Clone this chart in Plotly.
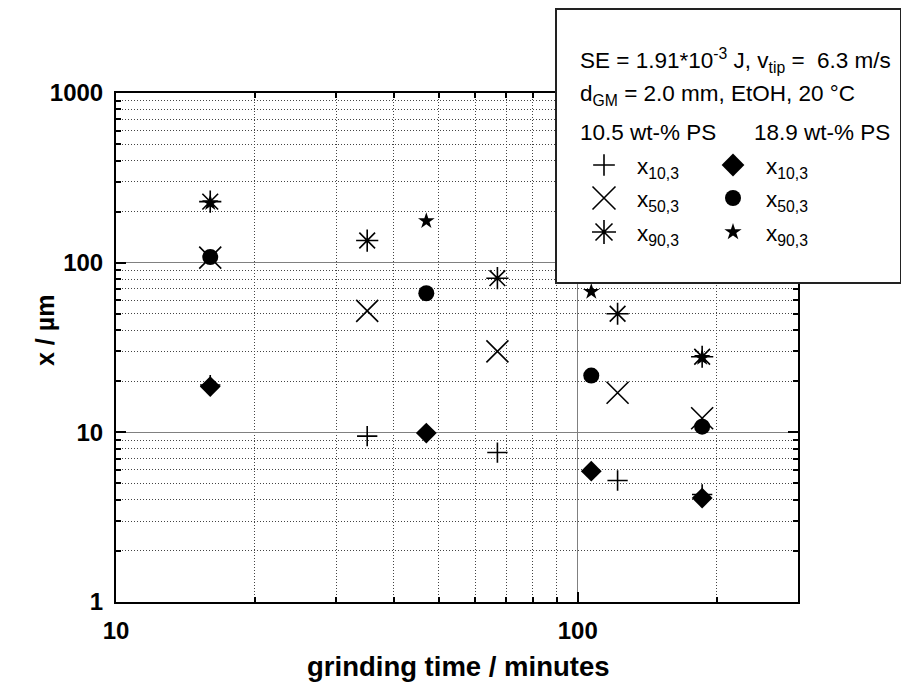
import plotly.graph_objects as go
import math

# ---- data ----
t_105 = [16, 35, 67, 122, 186]
x10_105 = [19.0, 9.5, 7.6, 5.2, 4.3]
x50_105 = [107, 52, 30, 17.1, 12.1]
x90_105 = [229, 135, 81, 50, 27.9]

t_189 = [16, 47, 107, 186]
x10_189 = [18.6, 9.9, 5.9, 4.1]
x50_189 = [108, 66, 21.6, 10.8]
x90_189 = [225, 176, 67.5, 27.5]

y_ticks = [1, 10, 100, 1000]
x_ticks = [10, 100]

W, H = 901, 684
FONT = "Liberation Sans"

# plot area in pixels
PL, PR, PT, PB = 116, 798, 93, 602
# legend box in pixels
BL, BR, BT, BB = 557, 900, 10, 282

fig = go.Figure()

line_black = dict(color="black", width=1.6)
series = [
    (t_105, x10_105, "cross-thin-open", 14.5, True),
    (t_105, x50_105, "x-thin-open", 22, True),
    (t_105, x90_105, "asterisk-open", 18.5, True),
    (t_189, x10_189, "diamond", 16, False),
    (t_189, x50_189, "circle", 16, False),
    (t_189, x90_189, "star", 12.5, False),
]
for tx, vy, sym, sz, is_open in series:
    fig.add_trace(go.Scatter(
        x=tx, y=vy, mode="markers", xaxis="x", yaxis="y",
        marker=dict(symbol=sym, size=sz, color="black",
                    line=line_black if is_open else dict(width=0)),
        showlegend=False, hoverinfo="skip"))

# legend symbols (in legend-box subplot, pixel coordinates)
leg_sym = [
    (604, 165, "cross-thin-open", 15.5, True),
    (604, 198, "x-thin-open", 23, True),
    (604, 232, "asterisk-open", 20, True),
    (733, 165, "diamond", 17.5, False),
    (733, 198, "circle", 16, False),
    (733, 232, "star", 13, False),
]
for lx, ly, sym, sz, is_open in leg_sym:
    fig.add_trace(go.Scatter(
        x=[lx], y=[ly], mode="markers", xaxis="x2", yaxis="y2",
        marker=dict(symbol=sym, size=sz, color="black",
                    line=line_black if is_open else dict(width=0)),
        showlegend=False, hoverinfo="skip"))

tickfont = dict(family=FONT, size=24, color="black", weight="bold")
minor_common = dict(ticks="inside", ticklen=5, tickwidth=1.5, tickcolor="black",
                    showgrid=True, gridcolor="#444444", griddash="1px,2px", gridwidth=1,
                    dtick="D1")

fig.update_layout(
    template="none",
    width=W, height=H,
    margin=dict(l=0, r=0, t=0, b=0, pad=0),
    paper_bgcolor="white", plot_bgcolor="white",
    showlegend=False,
    xaxis=dict(
        type="log", range=[1, math.log10(300)], automargin=False,
        domain=[PL / W, PR / W], anchor="y",
        tickvals=x_ticks, ticktext=[str(v) for v in x_ticks],
        tickfont=tickfont, ticks="inside", ticklen=10, tickwidth=1.5, tickcolor="black",
        showline=True, linecolor="black", linewidth=2, mirror="ticks",
        showgrid=True, gridcolor="#808080", gridwidth=1,
        zeroline=False, ticklabelstandoff=6,
        minor=minor_common,
    ),
    yaxis=dict(
        type="log", range=[0, 3], automargin=False,
        domain=[1 - PB / H, 1 - PT / H], anchor="x",
        tickvals=y_ticks, ticktext=[str(v) for v in y_ticks],
        tickfont=tickfont, ticks="inside", ticklen=10, tickwidth=1.5, tickcolor="black",
        showline=True, linecolor="black", linewidth=2, mirror="ticks",
        showgrid=True, gridcolor="#808080", gridwidth=1,
        zeroline=False, ticklabelstandoff=6,
        minor=minor_common,
    ),
    xaxis2=dict(
        range=[BL, BR], domain=[BL / W, BR / W], anchor="y2", automargin=False,
        showticklabels=False, ticks="", showgrid=False, zeroline=False,
        showline=True, linecolor="#222222", linewidth=1.5, mirror=True, fixedrange=True,
    ),
    yaxis2=dict(
        range=[BB, BT], domain=[1 - BB / H, 1 - BT / H], anchor="x2", automargin=False,
        showticklabels=False, ticks="", showgrid=False, zeroline=False,
        showline=True, linecolor="#222222", linewidth=1.5, mirror=True, fixedrange=True,
    ),
)

ann = []
# axis titles
ann.append(dict(text="<b>grinding time / minutes</b>", x=458 / W, y=1 - 666 / H,
                xref="paper", yref="paper", showarrow=False,
                font=dict(family=FONT, size=27.5, color="black"),
                xanchor="center", yanchor="middle"))
ann.append(dict(text="<b>x / µm</b>", x=45 / W, y=1 - 331 / H,
                xref="paper", yref="paper", showarrow=False, textangle=-90,
                font=dict(family=FONT, size=25, color="black"),
                xanchor="center", yanchor="middle"))

lf = dict(family=FONT, size=22.5, color="black")
leg_text = [
    ("SE = 1.91*10<sup>-3</sup> J, v<sub>tip</sub> = &nbsp;6.3 m/s", 578, 61),
    ("d<sub>GM</sub> = 2.0 mm, EtOH, 20 °C", 578, 95),
    ("10.5 wt-% PS", 578, 133),
    ("18.9 wt-% PS", 752, 133),
    ("x<sub>10,3</sub>", 635, 168),
    ("x<sub>50,3</sub>", 635, 201),
    ("x<sub>90,3</sub>", 635, 235),
    ("x<sub>10,3</sub>", 764, 168),
    ("x<sub>50,3</sub>", 764, 201),
    ("x<sub>90,3</sub>", 764, 235),
]
for txt, lx, ly in leg_text:
    ann.append(dict(text=txt, x=lx, y=ly, xref="x2", yref="y2", showarrow=False,
                    font=lf, xanchor="left", yanchor="middle"))
fig.update_layout(annotations=ann)

fig.write_html("out.html", config={"displayModeBar": False},
               post_script="document.body.style.margin='0';document.body.style.overflow='hidden';")
